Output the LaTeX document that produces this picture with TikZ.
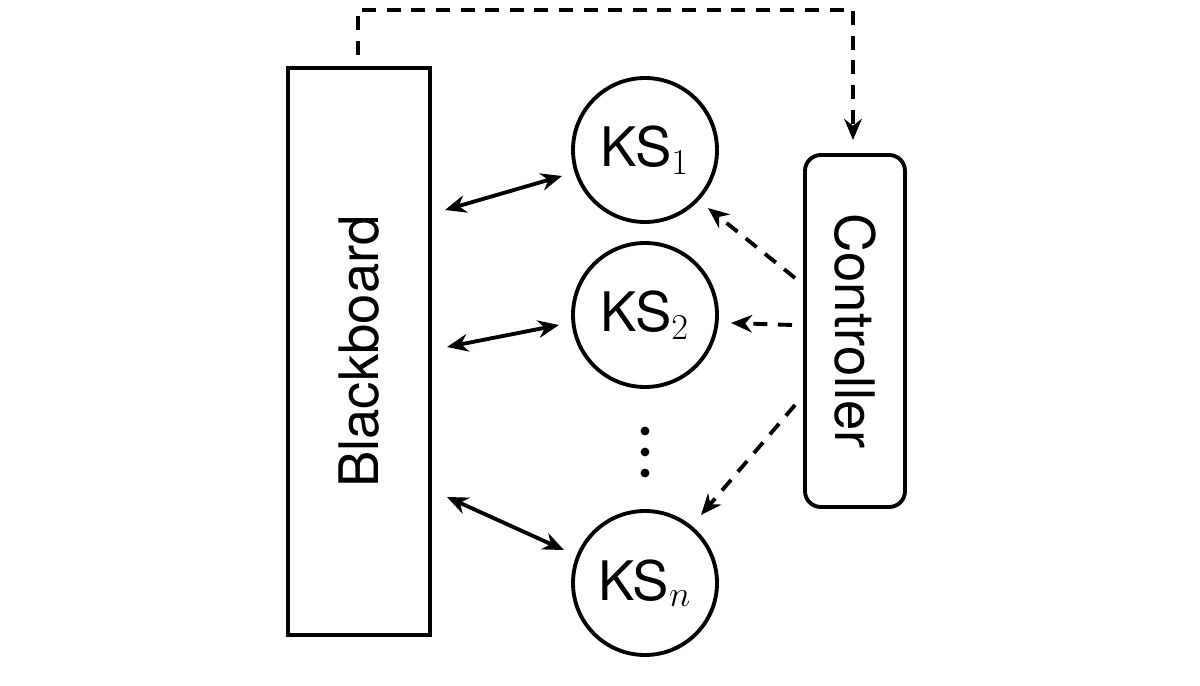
\documentclass[tikz,border=0pt]{standalone}
\usepackage{fontspec}
\setmainfont{TeX Gyre Heros}
\usetikzlibrary{arrows.meta}
\begin{document}
\begin{tikzpicture}[x=0.02cm,y=-0.02cm,
  every node/.style={font=\fontsize{31}{36}\selectfont},
  box/.style={draw,line width=2.2pt,inner sep=0},
  ks/.style={draw,circle,line width=2.2pt,minimum size=144*0.02cm,inner sep=0},
  dot/.style={circle,fill,inner sep=0,minimum size=5pt},
  con/.style={line width=2.2pt,{Stealth[length=12pt,width=10pt]}-{Stealth[length=12pt,width=10pt]}},
  dsh/.style={line width=2.2pt,dash pattern=on 8pt off 6pt,-{Stealth[length=12pt,width=10pt]}}]
\useasboundingbox (0,0) rectangle (1200,686);
\node[box,minimum width=142*0.02cm,minimum height=567*0.02cm] (bb) at (359,351.5) {};
\node[rotate=90] (bbt) at (359,351.5) {Blackboard};
\node[box,rounded corners=9pt,minimum width=100*0.02cm,minimum height=352*0.02cm] (ctl) at (855,331) {};
\node[rotate=-90] (ctlt) at (855,331) {Controller};
\node[ks] (k1) at (645,150) {KS$_1$};
\node[ks] (k2) at (645,315) {KS$_2$};
\node[ks] (kn) at (645,583) {KS$_n$};
\node[dot] (p1) at (645,431) {};
\node[dot] (p2) at (645,452) {};
\node[dot] (p3) at (645,473) {};
\coordinate (a1) at (445,210); \coordinate (b1) at (562,176);
\coordinate (a2) at (447,347); \coordinate (b2) at (559,325);
\coordinate (a3) at (447,497); \coordinate (b3) at (564,550);
\draw[con] (a1) -- (b1);
\draw[con] (a2) -- (b2);
\draw[con] (a3) -- (b3);
\coordinate (c1) at (795,278); \coordinate (d1) at (708,208);
\coordinate (c2) at (792,325); \coordinate (d2) at (731,323);
\coordinate (c3) at (795,405); \coordinate (d3) at (701,515);
\draw[dsh] (c1) -- (d1);
\draw[dsh] (c2) -- (d2);
\draw[dsh] (c3) -- (d3);
\coordinate (t0) at (358,55); \coordinate (t1) at (853,140);
\draw[dsh] (t0) -- (358,10) -- (853,10) -- (t1);
\end{tikzpicture}
\end{document}
